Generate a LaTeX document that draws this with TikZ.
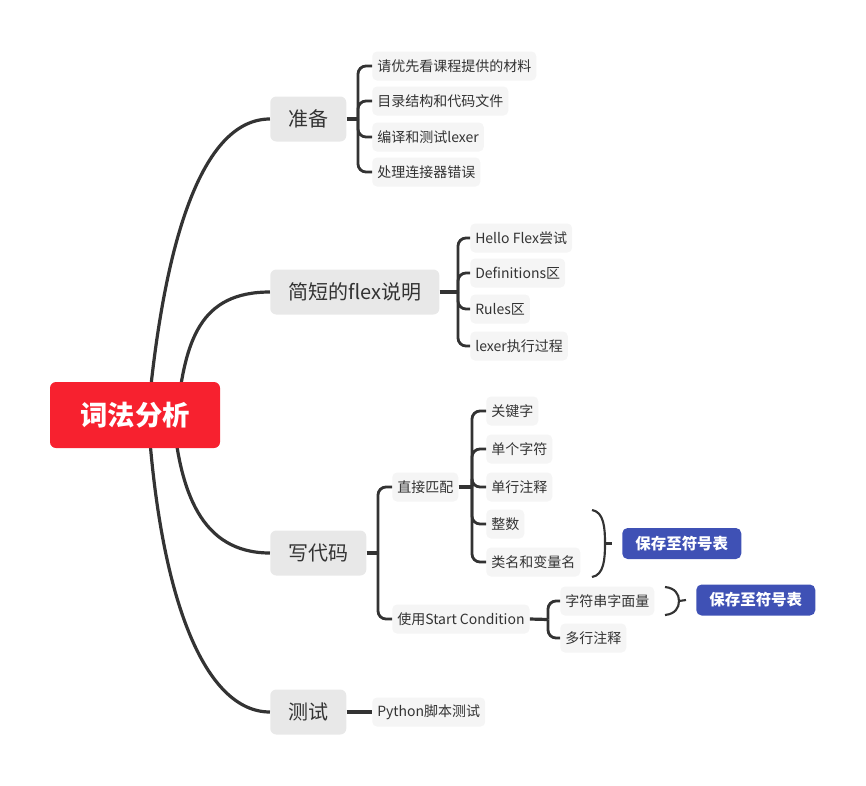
\documentclass[tikz,border=0pt]{standalone}
\usepackage{fontspec}
\setmainfont{Noto Sans CJK SC}
\usetikzlibrary{backgrounds}
\definecolor{rootred}{HTML}{F7212F}
\definecolor{lvlone}{HTML}{E8E8E8}
\definecolor{lvltwo}{HTML}{F5F5F5}
\definecolor{sumblue}{HTML}{3F51B5}
\definecolor{linec}{HTML}{333333}
\definecolor{txt}{HTML}{333333}
\begin{document}
\begin{tikzpicture}[x=0.75pt,y=-0.75pt,
 rootbox/.style={fill=rootred, text=white, rounded corners=4.5pt, font=\fontsize{20.5}{24}\selectfont\bfseries, minimum height=49.5pt, minimum width=127.5pt, inner sep=0pt},
 lone/.style={fill=lvlone, text=txt, rounded corners=4.5pt, font=\fontsize{15}{18}\selectfont, minimum height=33.75pt, inner xsep=13.5pt, inner ysep=0pt, anchor=west},
 ltwo/.style={fill=lvltwo, text=txt, rounded corners=3.5pt, font=\fontsize{10.5}{12}\selectfont, minimum height=21.75pt, inner xsep=3.75pt, inner ysep=0pt, anchor=west},
 summ/.style={fill=sumblue, text=white, rounded corners=4pt, font=\fontsize{11.6}{13}\selectfont\bfseries, minimum height=23.25pt, minimum width=89.25pt, inner sep=0pt, anchor=west},
 conn/.style={draw=linec, line width=2.4pt},
 br/.style={draw=linec, line width=2.1pt, rounded corners=6pt},
 sb/.style={draw=linec, line width=1.6pt}
]
\useasboundingbox (0,0) rectangle (866,785);
% root and level one
\node[rootbox] (root) at (135,415) {词法分析};
\node[lone] (zb) at (270,119) {准备};
\node[lone] (fx) at (270,292) {简短的flex说明};
\node[lone] (xd) at (270,553) {写代码};
\node[lone] (cs) at (270,712) {测试};
% 准备 children
\node[ltwo] (zb1) at (372,66) {请优先看课程提供的材料};
\node[ltwo] (zb2) at (372,101) {目录结构和代码文件};
\node[ltwo] (zb3) at (372,137) {编译和测试lexer};
\node[ltwo] (zb4) at (372,172) {处理连接器错误};
% flex children
\node[ltwo] (fx1) at (470,238) {Hello Flex尝试};
\node[ltwo] (fx2) at (470,273) {Definitions区};
\node[ltwo] (fx3) at (470,309) {Rules区};
\node[ltwo] (fx4) at (470,346) {lexer执行过程};
% 写代码 children
\node[ltwo] (xd1) at (392,487) {直接匹配};
\node[ltwo] (xd2) at (392,619) {使用Start Condition};
\node[ltwo] (zj1) at (486,411) {关键字};
\node[ltwo] (zj2) at (486,449) {单个字符};
\node[ltwo] (zj3) at (486,487) {单行注释};
\node[ltwo] (zj4) at (486,524) {整数};
\node[ltwo] (zj5) at (486,562) {类名和变量名};
\node[ltwo] (sc1) at (560,601) {字符串字面量};
\node[ltwo] (sc2) at (560,638) {多行注释};
\node[summ] (sm1) at (622,543.5) {保存至符号表};
\node[summ] (sm2) at (696,600) {保存至符号表};
% 测试 child
\node[ltwo] (cs1) at (372,712) {Python脚本测试};

\begin{scope}[on background layer]
\draw[conn] ([xshift=9.75pt]root.center) .. controls (165,230) and (205,119) .. (zb.west);
\draw[conn] ([xshift=31.5pt]root.center) .. controls (185,340) and (200,292) .. (fx.west);
\draw[conn] ([xshift=28.5pt]root.center) .. controls (180,490) and (200,553) .. (xd.west);
\draw[conn] ([xshift=9.75pt]root.center) .. controls (160,600) and (205,712) .. (cs.west);
\end{scope}

% brackets
\coordinate (zbs) at (358,119);
\draw[conn] (zb.east) -- (zbs);
\foreach \c in {zb1,zb2,zb3,zb4} \draw[br] (zbs) |- (\c.west);
\coordinate (fxs) at (458,292);
\draw[conn] (fx.east) -- (fxs);
\foreach \c in {fx1,fx2,fx3,fx4} \draw[br] (fxs) |- (\c.west);
\coordinate (xds) at (378,553);
\draw[conn] (xd.east) -- (xds);
\foreach \c in {xd1,xd2} \draw[br] (xds) |- (\c.west);
\coordinate (zjs) at (472,487);
\draw[conn] (xd1.east) -- (zjs);
\foreach \c in {zj1,zj2,zj3,zj4,zj5} \draw[br] (zjs) |- (\c.west);
\coordinate (scs) at (548,619.5);
\draw[conn] (xd2.east) -- (scs);
\foreach \c in {sc1,sc2} \draw[br] (scs) |- (\c.west);
\draw[conn] (cs.east) -- (cs1.west);

% summary braces
\coordinate (b1t) at (592,510);
\coordinate (b1m) at (605,543.5);
\coordinate (b1b) at (592,577);
\draw[sb] (b1t) .. controls (604,512) and (605,528) .. (b1m) .. controls (605,559) and (604,575) .. (b1b);
\draw[sb] (b1m) -- ([xshift=-7.5pt]sm1.west);
\coordinate (b2t) at (665,587);
\coordinate (b2m) at (679,601);
\coordinate (b2b) at (665,615);
\draw[sb] (b2t) .. controls (675,588) and (679,594) .. (b2m) .. controls (679,608) and (675,614) .. (b2b);
\draw[sb] (b2m) -- ([xshift=-7.5pt]sm2.west);
\end{tikzpicture}
\end{document}
